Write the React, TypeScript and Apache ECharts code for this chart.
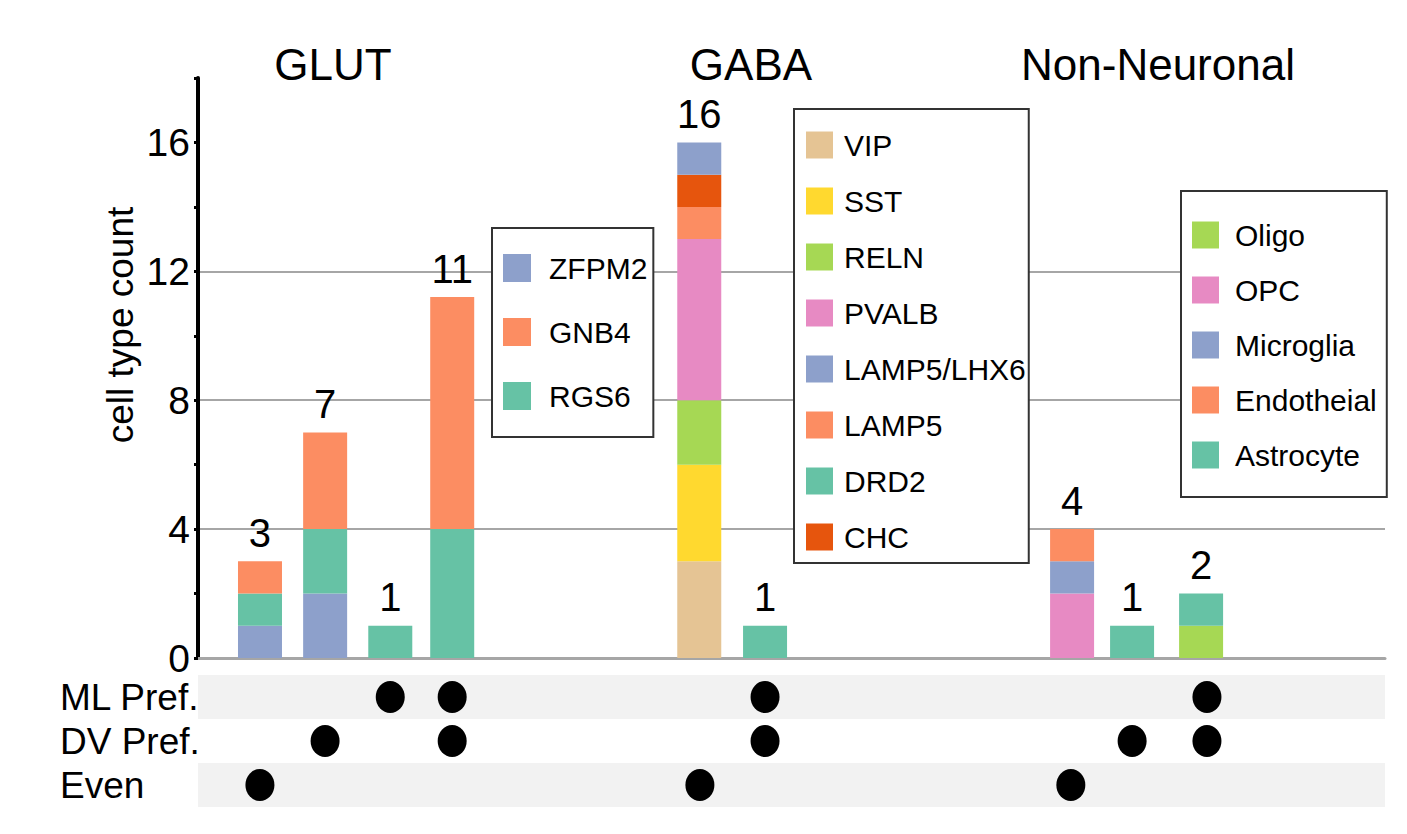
import { useEffect, useRef } from 'react';
import * as echarts from 'echarts';

// bar positions along the x axis (hundredths of a bar slot), left to right
const barPos = [96, 197, 298, 394, 777, 879, 1355, 1448, 1555];
const dotPos = [96, 197, 298, 394, 778, 879, 1353, 1448, 1564];
const totals = [3, 7, 1, 11, 16, 1, 4, 1, 2];

// stacked segments, bottom to top, one value per bar
const zfpm2 = [1, 2, 0, 0, 0, 0, 0, 0, 0];
const rgs6 = [1, 2, 1, 4, 0, 0, 0, 0, 0];
const gnb4 = [1, 3, 0, 7.2, 0, 0, 0, 0, 0];
const vip = [0, 0, 0, 0, 3, 0, 0, 0, 0];
const sst = [0, 0, 0, 0, 3, 0, 0, 0, 0];
const reln = [0, 0, 0, 0, 2, 0, 0, 0, 0];
const pvalb = [0, 0, 0, 0, 5, 0, 0, 0, 0];
const lamp5 = [0, 0, 0, 0, 1, 0, 0, 0, 0];
const chc = [0, 0, 0, 0, 1, 0, 0, 0, 0];
const lamp5Lhx6 = [0, 0, 0, 0, 1, 0, 0, 0, 0];
const drd2 = [0, 0, 0, 0, 0, 1, 0, 0, 0];
const oligo = [0, 0, 0, 0, 0, 0, 0, 0, 1];
const opc = [0, 0, 0, 0, 0, 0, 2, 0, 0];
const microglia = [0, 0, 0, 0, 0, 0, 1, 0, 0];
const endotheial = [0, 0, 0, 0, 0, 0, 1, 0, 0];
const astrocyte = [0, 0, 0, 0, 0, 0, 0, 1, 1];

// dot matrix rows (1 = dot under that bar)
const rows = ['Even', 'DV Pref.', 'ML Pref.'];
const evenDots = [1, 0, 0, 0, 1, 0, 1, 0, 0];
const dvDots = [0, 1, 0, 1, 0, 1, 0, 1, 1];
const mlDots = [0, 0, 1, 1, 0, 1, 0, 0, 1];

const groupTitles = ['GLUT', 'GABA', 'Non-Neuronal'];

const BLUE = '#8da0cb';
const ORANGE = '#fc8d62';
const TEAL = '#66c2a5';
const TAN = '#e5c494';
const YELLOW = '#ffd92f';
const LIME = '#a6d854';
const PINK = '#e78ac3';
const RED = '#e6550d';

const FONT = "'Liberation Sans', Arial, sans-serif";

const stackSeries = [
    { name: 'ZFPM2', values: zfpm2, color: BLUE },
    { name: 'RGS6', values: rgs6, color: TEAL },
    { name: 'GNB4', values: gnb4, color: ORANGE },
    { name: 'VIP', values: vip, color: TAN },
    { name: 'SST', values: sst, color: YELLOW },
    { name: 'RELN', values: reln, color: LIME },
    { name: 'PVALB', values: pvalb, color: PINK },
    { name: 'LAMP5', values: lamp5, color: ORANGE },
    { name: 'CHC', values: chc, color: RED },
    { name: 'LAMP5/LHX6', values: lamp5Lhx6, color: BLUE },
    { name: 'DRD2', values: drd2, color: TEAL },
    { name: 'Oligo', values: oligo, color: LIME },
    { name: 'OPC', values: opc, color: PINK },
    { name: 'Microglia', values: microglia, color: BLUE },
    { name: 'Endotheial', values: endotheial, color: ORANGE },
    { name: 'Astrocyte', values: astrocyte, color: TEAL },
];

const legendBox = (names: string[], left: number, top: number, gap: number, pad: number[], size: number, textPad: number) => ({
    data: names,
    orient: 'vertical',
    left,
    top,
    itemGap: gap,
    padding: pad,
    itemWidth: size,
    itemHeight: size,
    icon: 'rect',
    selectedMode: false,
    borderColor: '#333',
    borderWidth: 2,
    backgroundColor: '#fff',
    textStyle: { fontSize: 30, color: '#000', fontFamily: FONT, padding: [0, 0, 0, textPad] },
});

const App = () => {
    const chartRef = useRef<HTMLDivElement | null>(null);

    useEffect(() => {
        document.body.style.margin = '0';
        if (!chartRef.current) return;
        const chart = echarts.init(chartRef.current, null, { renderer: 'svg' });

        const stackTop = barPos.map((_, i) => stackSeries.reduce((s, ser) => s + ser.values[i], 0));

        const bars = stackSeries.map((ser) => ({
            name: ser.name,
            type: 'bar',
            stack: 'count',
            barWidth: 44,
            xAxisIndex: 0,
            yAxisIndex: 0,
            itemStyle: { color: ser.color },
            data: barPos.map((x, i) => [x, ser.values[i]]),
        }));

        const dots: any[] = [];
        [evenDots, dvDots, mlDots].forEach((row, r) => {
            row.forEach((v, i) => {
                if (v) dots.push([dotPos[i], rows[r]]);
            });
        });

        const gridColors = [0, 2, 4, 6, 8, 10, 12, 14, 16, 18].map((v) =>
            v === 4 || v === 8 || v === 12 ? '#a6a6a6' : 'rgba(0,0,0,0)');

        const option = {
            animation: false,
            textStyle: { fontFamily: FONT },
            grid: [
                { left: 198, right: 22, top: 78, bottom: 176 },
                { left: 198, right: 22, top: 675, bottom: 27 },
            ],
            xAxis: [
                {
                    // echarts widens a bar axis by one bar width, so 34..1806 ends up as 0..1840
                    type: 'time',
                    gridIndex: 0,
                    min: 34,
                    max: 1806,
                    axisLine: { show: true, lineStyle: { color: '#a6a6a6', width: 3 } },
                    axisTick: { show: false },
                    axisLabel: { show: false },
                    splitLine: { show: false },
                },
                {
                    type: 'value',
                    gridIndex: 1,
                    min: 0,
                    max: 1840,
                    show: false,
                },
            ],
            yAxis: [
                {
                    type: 'value',
                    gridIndex: 0,
                    min: 0,
                    max: 18,
                    interval: 2,
                    axisLine: { show: true, lineStyle: { color: '#000', width: 4 } },
                    axisTick: { show: true, length: 4, lineStyle: { color: '#000', width: 3 } },
                    axisLabel: {
                        fontSize: 39,
                        color: '#000',
                        margin: 8,
                        fontFamily: FONT,
                        formatter: (v: number) => (v % 4 === 0 && v <= 16 ? String(v) : ''),
                    },
                    splitLine: { show: true, lineStyle: { color: gridColors, width: 2 } },
                },
                {
                    type: 'category',
                    gridIndex: 1,
                    data: rows,
                    axisLine: { show: false },
                    axisTick: { show: false },
                    axisLabel: { interval: 0, fontSize: 37, color: '#000', align: 'left', margin: 138, fontFamily: FONT },
                    splitLine: { show: false },
                    splitArea: { show: true, interval: 0, areaStyle: { color: ['#f2f2f2', '#ffffff'] } },
                },
            ],
            legend: [
                legendBox(['ZFPM2', 'GNB4', 'RGS6'], 492, 228, 34, [25, 6, 26, 11], 28, 13),
                legendBox(['VIP', 'SST', 'RELN', 'PVALB', 'LAMP5/LHX6', 'LAMP5', 'DRD2', 'CHC'], 794, 109, 26, [21, 3, 11, 12], 27, 6),
                legendBox(['Oligo', 'OPC', 'Microglia', 'Endotheial', 'Astrocyte'], 1181, 191, 25, [29, 10, 27, 11], 27, 11),
            ],
            graphic: [
                {
                    type: 'text',
                    x: 120,
                    y: 325,
                    rotation: Math.PI / 2,
                    style: { text: 'cell type count', fontSize: 37, fontFamily: FONT, fill: '#000', textAlign: 'center', textVerticalAlign: 'middle' },
                },
                ...groupTitles.map((t, i) => ({
                    type: 'text',
                    x: [333, 751, 1158][i],
                    y: 64,
                    style: { text: t, fontSize: 44, fontFamily: FONT, fill: '#000', textAlign: 'center', textVerticalAlign: 'middle' },
                })),
            ],
            series: [
                ...bars,
                {
                    type: 'scatter',
                    name: 'total',
                    xAxisIndex: 0,
                    yAxisIndex: 0,
                    symbolSize: 1,
                    itemStyle: { color: 'rgba(0,0,0,0)', opacity: 1 },
                    label: {
                        show: true,
                        position: 'top',
                        distance: 8,
                        fontSize: 40,
                        color: '#000',
                        fontFamily: FONT,
                        formatter: (p: any) => String(totals[p.dataIndex]),
                    },
                    data: barPos.map((x, i) => [x, stackTop[i]]),
                    z: 5,
                },
                {
                    type: 'scatter',
                    name: 'dots',
                    xAxisIndex: 1,
                    yAxisIndex: 1,
                    symbol: 'path://M50,0 A50,50 0 1,1 50,100 A50,50 0 1,1 50,0 Z',
                    symbolSize: [29, 32],
                    itemStyle: { color: '#000', opacity: 1 },
                    data: dots,
                },
            ],
        };

        chart.setOption(option as any);
        return () => {
            chart.dispose();
        };
    }, []);

    return <div ref={chartRef} style={{ position: 'absolute', left: 0, top: 0, width: 1407, height: 834 }} />;
};

export default App;
